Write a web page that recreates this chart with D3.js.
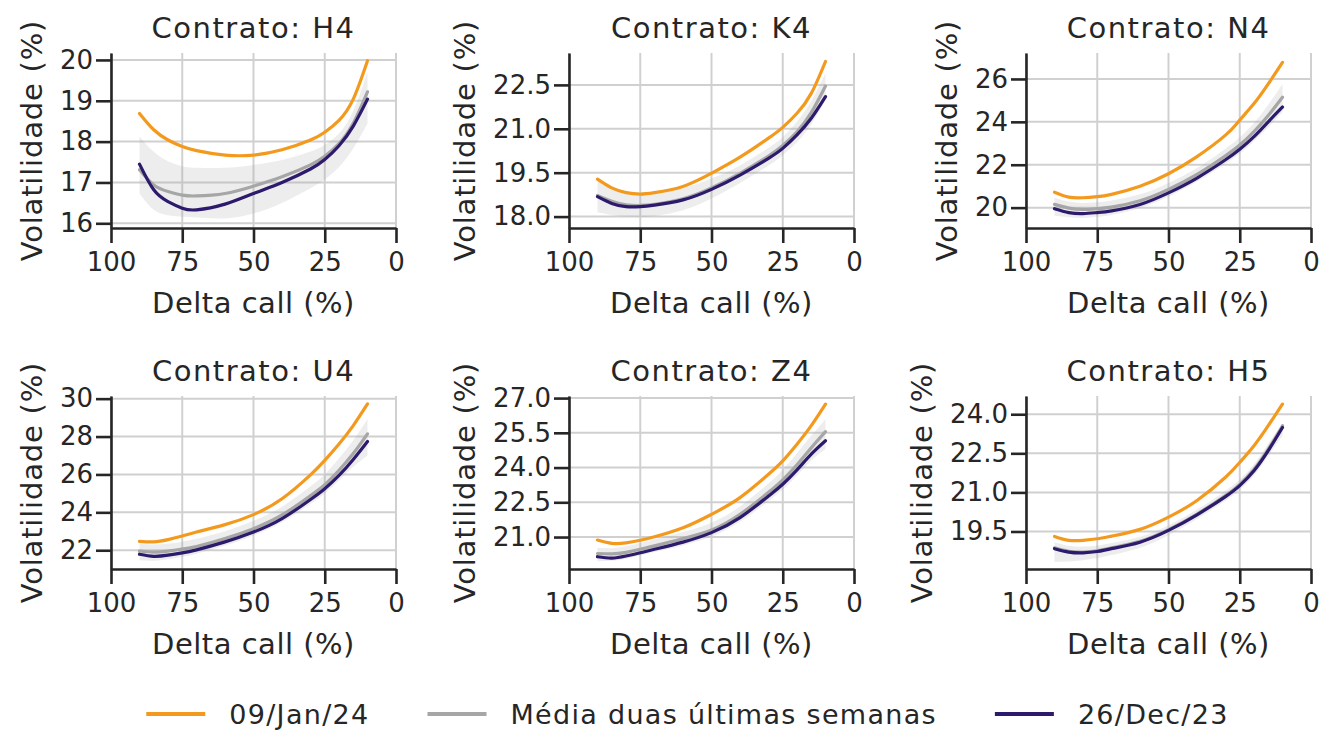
<!DOCTYPE html>
<html><head><meta charset="utf-8">
<script src="https://cdn.jsdelivr.net/npm/d3@7"></script>
<style>
body{margin:0;background:#fff;}
svg{display:block;}
text{font-family:"DejaVu Sans",sans-serif;fill:#262626;}
</style></head>
<body><svg id="chart" width="1327" height="731"></svg>
<script>
// ---- data ----
const deltas = [90, 85, 80, 75, 70, 60, 50, 40, 30, 25, 20, 15, 10];
const contracts = ["H4", "K4", "N4", "U4", "Z4", "H5"];
const seriesNames = ["09/Jan/24", "Média duas últimas semanas", "26/Dec/23"];

const h4Jan  = [18.69, 18.29, 18.04, 17.88, 17.78, 17.67, 17.67, 17.80, 18.04, 18.23, 18.52, 19.04, 19.98];
const h4Mean = [17.31, 16.94, 16.78, 16.69, 16.67, 16.73, 16.91, 17.14, 17.43, 17.64, 17.95, 18.45, 19.22];
const h4Dec  = [17.45, 16.82, 16.53, 16.37, 16.33, 16.47, 16.73, 17.00, 17.33, 17.56, 17.90, 18.38, 19.04];
const h4Lo   = [16.73, 16.33, 16.20, 16.16, 16.14, 16.12, 16.24, 16.50, 16.86, 17.07, 17.38, 17.83, 18.45];
const h4Hi   = [18.12, 17.75, 17.52, 17.40, 17.36, 17.36, 17.43, 17.55, 17.76, 17.92, 18.20, 18.75, 19.71];

const k4Jan  = [19.28, 18.98, 18.82, 18.77, 18.82, 19.03, 19.48, 20.03, 20.68, 21.05, 21.53, 22.21, 23.30];
const k4Mean = [18.72, 18.52, 18.40, 18.38, 18.42, 18.61, 18.98, 19.48, 20.07, 20.43, 20.90, 21.55, 22.46];
const k4Dec  = [18.68, 18.45, 18.34, 18.34, 18.39, 18.57, 18.93, 19.42, 19.99, 20.33, 20.79, 21.36, 22.10];
const k4Lo   = [18.15, 18.05, 18.00, 17.98, 18.02, 18.22, 18.62, 19.15, 19.75, 20.10, 20.55, 21.15, 22.00];
const k4Hi   = [19.25, 19.00, 18.85, 18.80, 18.82, 18.98, 19.30, 19.75, 20.35, 20.72, 21.25, 21.95, 22.90];

const n4Jan  = [20.72, 20.49, 20.46, 20.51, 20.62, 21.00, 21.58, 22.38, 23.38, 24.08, 24.85, 25.77, 26.77];
const n4Mean = [20.15, 19.98, 19.92, 19.95, 20.02, 20.32, 20.85, 21.55, 22.42, 22.92, 23.55, 24.30, 25.15];
const n4Dec  = [19.95, 19.77, 19.72, 19.77, 19.85, 20.15, 20.69, 21.38, 22.23, 22.72, 23.31, 24.00, 24.69];
const n4Lo   = [19.62, 19.55, 19.52, 19.57, 19.66, 19.98, 20.52, 21.22, 22.05, 22.52, 23.10, 23.75, 24.46];
const n4Hi   = [20.46, 20.28, 20.22, 20.25, 20.33, 20.62, 21.15, 21.85, 22.75, 23.28, 23.95, 24.80, 25.77];

const u4Jan  = [22.47, 22.44, 22.56, 22.75, 22.96, 23.35, 23.88, 24.72, 25.98, 26.74, 27.61, 28.58, 29.72];
const u4Mean = [21.96, 21.90, 21.95, 22.06, 22.20, 22.62, 23.14, 23.86, 24.88, 25.46, 26.22, 27.10, 28.14];
const u4Dec  = [21.79, 21.68, 21.74, 21.86, 22.02, 22.44, 22.96, 23.67, 24.68, 25.25, 25.95, 26.79, 27.74];
const u4Lo   = [21.47, 21.45, 21.52, 21.65, 21.82, 22.25, 22.78, 23.48, 24.45, 25.00, 25.68, 26.40, 27.00];
const u4Hi   = [22.35, 22.30, 22.35, 22.45, 22.60, 23.00, 23.55, 24.30, 25.38, 26.00, 26.85, 27.80, 28.93];

const z4Jan  = [20.87, 20.73, 20.75, 20.86, 21.01, 21.40, 21.98, 22.70, 23.71, 24.29, 25.01, 25.81, 26.74];
const z4Mean = [20.29, 20.27, 20.34, 20.47, 20.62, 20.93, 21.30, 21.98, 22.93, 23.47, 24.12, 24.85, 25.55];
const z4Dec  = [20.15, 20.09, 20.18, 20.32, 20.47, 20.78, 21.19, 21.84, 22.77, 23.28, 23.90, 24.58, 25.16];
const z4Lo   = [19.96, 19.98, 20.06, 20.20, 20.35, 20.64, 21.02, 21.66, 22.55, 23.05, 23.65, 24.30, 24.80];
const z4Hi   = [20.54, 20.52, 20.60, 20.74, 20.90, 21.22, 21.62, 22.32, 23.32, 23.90, 24.62, 25.38, 26.09];

const h5Jan  = [19.31, 19.16, 19.16, 19.22, 19.32, 19.58, 20.05, 20.69, 21.58, 22.15, 22.79, 23.56, 24.39];
const h5Mean = [18.87, 18.74, 18.71, 18.76, 18.87, 19.12, 19.57, 20.17, 20.88, 21.31, 21.89, 22.66, 23.56];
const h5Dec  = [18.84, 18.71, 18.68, 18.73, 18.84, 19.09, 19.54, 20.14, 20.84, 21.26, 21.83, 22.60, 23.49];
const h5Lo   = [18.33, 18.35, 18.40, 18.48, 18.60, 18.88, 19.36, 19.98, 20.68, 21.10, 21.65, 22.40, 23.17];
const h5Hi   = [19.09, 18.95, 18.92, 18.96, 19.06, 19.30, 19.74, 20.34, 21.06, 21.50, 22.08, 22.87, 23.62];

const xTicks = [100, 75, 50, 25, 0];
const yTicksList = [
  [16, 17, 18, 19, 20],
  [18.0, 19.5, 21.0, 22.5],
  [20, 22, 24, 26],
  [22, 24, 26, 28, 30],
  [21.0, 22.5, 24.0, 25.5, 27.0],
  [19.5, 21.0, 22.5, 24.0]
];
const yFormats = [".0f", ".1f", ".0f", ".0f", ".1f", ".1f"];
const yDomains = [
  [15.885, 20.17],
  [17.61, 23.59],
  [19.05, 27.21],
  [21.01, 30.14],
  [19.62, 27.09],
  [18.06, 24.70]
];

const janSeries  = [h4Jan, k4Jan, n4Jan, u4Jan, z4Jan, h5Jan];
const meanSeries = [h4Mean, k4Mean, n4Mean, u4Mean, z4Mean, h5Mean];
const decSeries  = [h4Dec, k4Dec, n4Dec, u4Dec, z4Dec, h5Dec];
const loSeries   = [h4Lo, k4Lo, n4Lo, u4Lo, z4Lo, h5Lo];
const hiSeries   = [h4Hi, k4Hi, n4Hi, u4Hi, z4Hi, h5Hi];

// ---- styles / layout ----
const colors = ["#F39A1E", "#A6A6A6", "#2D1A6C"];
const ink = "#262626";
const gridColor = "#d0d0d0";
const colLeft = [111, 569, 1026];
const plotW = 285;
const rowTop = [53, 396];
const rowH = [175, 173];
const tickFont = 26, labelFont = 29, legendFont = 27;

const svg = d3.select("#chart");
const curve = d3.curveNatural;

contracts.forEach((c, i) => {
  const col = i % 3, row = Math.floor(i / 3);
  const left = colLeft[col], top = rowTop[row], h = rowH[row];
  const x = d3.scaleLinear().domain([100, 0]).range([left, left + plotW]);
  const y = d3.scaleLinear().domain(yDomains[i]).range([top + h, top]);
  const g = svg.append("g");

  // grid
  g.selectAll(".vg").data(xTicks).join("line")
    .attr("x1", d => x(d)).attr("x2", d => x(d))
    .attr("y1", top).attr("y2", top + h)
    .attr("stroke", gridColor).attr("stroke-width", 2);
  g.selectAll(".hg").data(yTicksList[i]).join("line")
    .attr("x1", left).attr("x2", left + plotW)
    .attr("y1", d => y(d)).attr("y2", d => y(d))
    .attr("stroke", gridColor).attr("stroke-width", 2);

  const pts = deltas.map((d, k) => ({
    d, jan: janSeries[i][k], mean: meanSeries[i][k], dec: decSeries[i][k],
    lo: loSeries[i][k], hi: hiSeries[i][k]
  }));

  // band
  g.append("path").datum(pts)
    .attr("d", d3.area().x(p => x(p.d)).y0(p => y(p.lo)).y1(p => y(p.hi)).curve(curve))
    .attr("fill", colors[1]).attr("fill-opacity", 0.2);

  const keys = ["jan", "mean", "dec"];
  keys.forEach((k, s) => {
    g.append("path").datum(pts)
      .attr("d", d3.line().x(p => x(p.d)).y(p => y(p[k])).curve(curve))
      .attr("fill", "none").attr("stroke", colors[s]).attr("stroke-width", 3.2)
      .attr("stroke-linecap", "round");
  });

  // axes
  const xa = g.append("g").attr("transform", `translate(0,${top + h})`)
    .call(d3.axisBottom(x).tickValues(xTicks).tickSize(15).tickSizeOuter(0).tickPadding(10).tickFormat(d3.format("d")));
  const ya = g.append("g").attr("transform", `translate(${left},0)`)
    .call(d3.axisLeft(y).tickValues(yTicksList[i]).tickSize(15).tickSizeOuter(0).tickPadding(3).tickFormat(d3.format(yFormats[i])));
  [xa, ya].forEach(a => {
    a.select(".domain").attr("stroke", ink).attr("stroke-width", 2.6);
    a.selectAll(".tick line").attr("stroke", ink).attr("stroke-width", 2.6);
    a.selectAll(".tick text").attr("font-size", tickFont).attr("fill", ink)
      .style("font-family", '"DejaVu Sans",sans-serif');
  });

  // title
  g.append("text").attr("x", left + plotW / 2).attr("y", top - 15)
    .attr("text-anchor", "middle").attr("font-size", labelFont)
    .attr("letter-spacing", 1.5).text("Contrato: " + c);
  // x label
  g.append("text").attr("x", left + plotW / 2).attr("y", top + h + 85)
    .attr("text-anchor", "middle").attr("font-size", labelFont)
    .attr("letter-spacing", 0.5).text("Delta call (%)");
  // y label
  let minX = 0;
  ya.selectAll(".tick text").each(function () {
    const b = this.getBBox();
    minX = Math.min(minX, b.x);
  });
  const lx = left + minX - 18;
  g.append("text").attr("transform", `translate(${lx},${top + h / 2}) rotate(-90)`)
    .attr("text-anchor", "middle").attr("font-size", labelFont)
    .attr("letter-spacing", 0.8).text("Volatilidade (%)");
});

// legend
const legY = 714;
const leg = svg.append("g");
const items = seriesNames.map((n, s) => {
  const t = leg.append("text").attr("font-size", legendFont).attr("letter-spacing", 1.3)
    .attr("y", legY + 10).text(n);
  return { t, w: t.node().getComputedTextLength(), s };
});
const lineLen = 59, gapLT = 24, gapItem = 58;
const total = items.reduce((a, it) => a + lineLen + gapLT + it.w, 0) + gapItem * (items.length - 1);
let cx = 687.5 - total / 2;
items.forEach(it => {
  leg.append("line").attr("x1", cx).attr("x2", cx + lineLen).attr("y1", legY).attr("y2", legY)
    .attr("stroke", colors[it.s]).attr("stroke-width", 4);
  it.t.attr("x", cx + lineLen + gapLT);
  cx += lineLen + gapLT + it.w + gapItem;
});
</script></body></html>
